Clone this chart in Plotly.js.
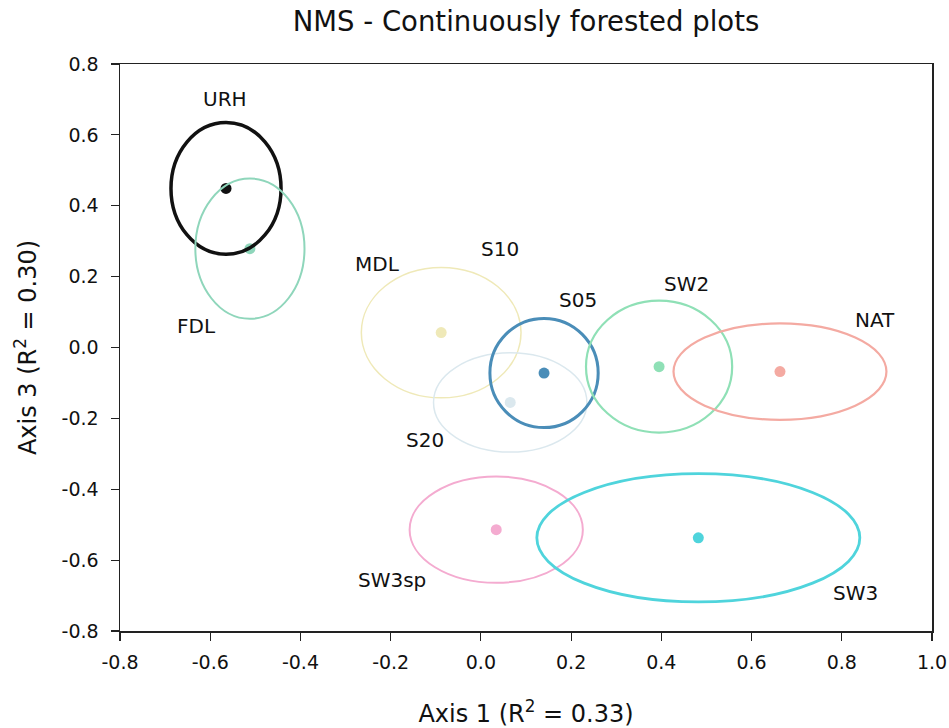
<!DOCTYPE html>
<html>
<head>
<meta charset="utf-8">
<script src="https://cdn.plot.ly/plotly-3.0.1.min.js"></script>
<style>html,body{margin:0;padding:0;background:#fff;}#chart{width:949px;height:728px;}</style>
</head>
<body>
<div id="chart"></div>
<script>
// Group names
var groups = ["URH", "FDL", "MDL", "S20", "S05", "SW2", "NAT", "SW3sp", "SW3"];
// Centroid scores (Axis 1, Axis 3)
var centerX = [-0.565, -0.512, -0.088, 0.065, 0.140, 0.395, 0.663, 0.034, 0.482];
var centerY = [0.449, 0.279, 0.042, -0.155, -0.072, -0.054, -0.068, -0.514, -0.537];
// Ellipse semi-axes (Axis 1, Axis 3)
var radiusX = [0.122, 0.121, 0.177, 0.170, 0.120, 0.162, 0.236, 0.192, 0.358];
var radiusY = [0.186, 0.198, 0.184, 0.140, 0.154, 0.186, 0.136, 0.150, 0.181];
var colors = ["#111111", "#8fd6bb", "#efe9b8", "#dbe8ee", "#4a8db8", "#8fe0b6", "#f4aaa2", "#f4abd0", "#4fd4dc"];
var lineWidths = [3.5, 2, 1.5, 1.5, 3, 2.2, 2.2, 2, 2.8];

// Label texts and positions
var labelText = ["URH", "FDL", "MDL", "S10", "S05", "SW2", "NAT", "S20", "SW3sp", "SW3"];
var labelX = [-0.567, -0.631, -0.230, 0.043, 0.216, 0.455, 0.874, -0.124, -0.197, 0.830];
var labelY = [0.700, 0.062, 0.237, 0.277, 0.135, 0.178, 0.079, -0.262, -0.655, -0.692];

// Axis ticks
var tickValsX = [-0.8, -0.6, -0.4, -0.2, 0.0, 0.2, 0.4, 0.6, 0.8, 1.0];
var tickValsY = [-0.8, -0.6, -0.4, -0.2, 0.0, 0.2, 0.4, 0.6, 0.8];

var FONT = "DejaVu Sans, Liberation Sans, Arial, sans-serif";

var shapes = groups.map(function (g, i) {
  return {
    type: "circle", xref: "x", yref: "y",
    x0: centerX[i] - radiusX[i], x1: centerX[i] + radiusX[i],
    y0: centerY[i] - radiusY[i], y1: centerY[i] + radiusY[i],
    line: {color: colors[i], width: lineWidths[i]},
    layer: "above"
  };
});

var traces = [{
  type: "scatter", mode: "markers",
  x: centerX, y: centerY, text: groups,
  marker: {size: 11, color: colors, line: {width: 0}},
  hoverinfo: "text", showlegend: false
}];

var annotations = labelText.map(function (t, i) {
  return {
    x: labelX[i], y: labelY[i], xref: "x", yref: "y",
    text: t, showarrow: false,
    font: {family: FONT, size: 20, color: "#111"}
  };
});

var axisFont = {family: FONT, size: 19, color: "#111"};

var layout = {
  width: 949, height: 728,
  margin: {l: 120, r: 17, t: 64, b: 97, pad: 0},
  paper_bgcolor: "#fff", plot_bgcolor: "#fff",
  showlegend: false,
  title: {
    text: "NMS - Continuously forested plots",
    font: {family: FONT, size: 27.5, color: "#111"},
    x: 0.5, xref: "paper", xanchor: "center", y: 0.97, yref: "container", yanchor: "middle"
  },
  xaxis: {
    range: [-0.8, 1.0], tickvals: tickValsX,
    ticktext: tickValsX.map(function (v) { return v.toFixed(1); }),
    showgrid: false, zeroline: false,
    showline: true, linecolor: "#222", linewidth: 1.5, mirror: true,
    ticks: "outside", ticklen: 8, tickwidth: 1.2, tickcolor: "#222",
    tickfont: axisFont, ticklabelstandoff: 6,
    title: {text: "Axis 1 (R<sup>2</sup> = 0.33)", font: {family: FONT, size: 24, color: "#111"}, standoff: 36}
  },
  yaxis: {
    range: [-0.8, 0.8], tickvals: tickValsY,
    ticktext: tickValsY.map(function (v) { return v.toFixed(1); }),
    showgrid: false, zeroline: false,
    showline: true, linecolor: "#222", linewidth: 1.5, mirror: true,
    ticks: "outside", ticklen: 8, tickwidth: 1.2, tickcolor: "#222",
    tickfont: axisFont, ticklabelstandoff: 8,
    title: {text: "Axis 3 (R<sup>2</sup> = 0.30)", font: {family: FONT, size: 24, color: "#111"}, standoff: 18}
  },
  shapes: shapes,
  annotations: annotations
};

Plotly.newPlot("chart", traces, layout, {displayModeBar: false, staticPlot: true});
</script>
</body>
</html>
